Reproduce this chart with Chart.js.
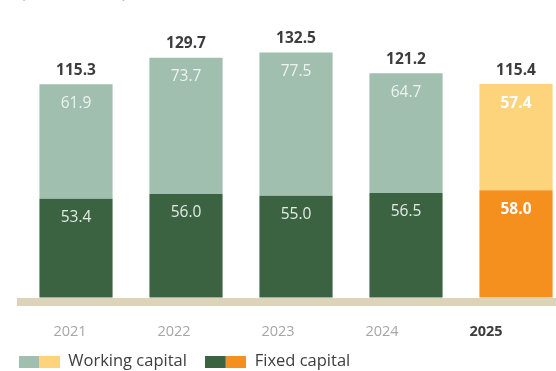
<!DOCTYPE html>
<html>
<head>
<meta charset="utf-8">
<script src="https://cdn.jsdelivr.net/npm/chart.js@4.4.1/dist/chart.umd.min.js"></script>
<style>
  html, body { margin: 0; padding: 0; background: #ffffff; overflow: hidden; width: 556px; height: 371px; }
  #wrap { position: relative; width: 556px; height: 371px; overflow: hidden; }
  #unit { position: absolute; left: 21px; top: -17px; font-family: "Open Sans", sans-serif; font-size: 15px; line-height: 18px; color: #b0b0b0; white-space: nowrap; }
  canvas { position: absolute; left: 0; top: 0; }
</style>
</head>
<body>
<div id="wrap">
  <div id="unit">(in EUR million)</div>
  <canvas id="c" width="580" height="371"></canvas>
</div>
<script>
const years = ['2021', '2022', '2023', '2024', '2025'];
const fixedCapital = [53.4, 56.0, 55.0, 56.5, 58.0];
const workingCapital = [61.9, 73.7, 77.5, 64.7, 57.4];
const totals = [115.3, 129.7, 132.5, 121.2, 115.4];

const workingColors = ['#a0bfae', '#a0bfae', '#a0bfae', '#a0bfae', '#fdd47c'];
const fixedColors = ['#3b6342', '#3b6342', '#3b6342', '#3b6342', '#f5901f'];

function legendSwatch(c1, c2) {
  const cv = document.createElement('canvas');
  cv.width = 41; cv.height = 12;
  const g = cv.getContext('2d');
  g.fillStyle = c1; g.fillRect(0, 0, 20.5, 12);
  g.fillStyle = c2; g.fillRect(20.5, 0, 20.5, 12);
  return cv;
}
const swWorking = legendSwatch('#a0bfae', '#fdd47c');
const swFixed = legendSwatch('#3b6342', '#f5901f');

const labelPlugin = {
  id: 'valueLabels',
  afterLayout(chart) {
    // the year labels in the original sit on a slightly narrower band than the bars
    const s = chart.scales.xl;
    s.left = 18; s.right = 538; s.width = 520;
    s.configure();
  },
  afterDatasetsDraw(chart) {
    const ctx = chart.ctx;
    ctx.save();
    ctx.textAlign = 'center';
    ctx.textBaseline = 'middle';
    const fixedMeta = chart.getDatasetMeta(0);
    const workMeta = chart.getDatasetMeta(1);
    fixedMeta.data.forEach((el, i) => {
      const last = i === years.length - 1;
      ctx.font = (last ? 'bold ' : '') + '15.5px "Open Sans"';
      ctx.fillStyle = last ? '#ffffff' : '#e3ebe4';
      ctx.fillText(fixedCapital[i].toFixed(1), el.x, el.y + 19);
    });
    workMeta.data.forEach((el, i) => {
      const last = i === years.length - 1;
      ctx.font = (last ? 'bold ' : '') + '15.5px "Open Sans"';
      ctx.fillStyle = last ? '#ffffff' : '#eef3ef';
      ctx.fillText(workingCapital[i].toFixed(1), el.x, el.y + 19);
      ctx.font = 'bold 15.5px "Open Sans"';
      ctx.fillStyle = '#3d3d3d';
      ctx.fillText(totals[i].toFixed(1), el.x, el.y - 14);
    });
    ctx.restore();
  }
};

new Chart(document.getElementById('c'), {
  type: 'bar',
  data: {
    labels: years,
    datasets: [
      { label: 'Fixed capital', data: fixedCapital, backgroundColor: fixedColors, borderWidth: 0 },
      { label: 'Working capital', data: workingCapital, backgroundColor: workingColors, borderWidth: 0 }
    ]
  },
  options: {
    responsive: false,
    animation: false,
    layout: { padding: { left: 9, right: 9, top: 38.6, bottom: -9 } },
    barPercentage: 0.665,
    categoryPercentage: 1,
    scales: {
      x: {
        stacked: true,
        offset: true,
        weight: 0,
        grid: { display: false, drawTicks: false },
        border: { display: true, color: '#dcd3b8', width: 8, z: 1 },
        ticks: { display: false },
        afterFit(s) { s.height = 0; }
      },
      xl: {
        type: 'category',
        position: 'bottom',
        labels: years,
        offset: true,
        weight: 1,
        grid: { display: false, drawTicks: false },
        border: { display: false },
        afterFit(s) { s.height = 42; },
        ticks: {
          padding: 22,
          color: (c) => c.index === 4 ? '#3d3d3d' : '#a6a6a6',
          font: (c) => ({ family: 'Open Sans', size: 14.5, weight: c.index === 4 ? 'bold' : 'normal' })
        }
      },
      y: {
        stacked: true,
        display: true,
        min: -2.16,
        max: 140,
        grid: { display: false, drawTicks: false },
        border: { display: false },
        ticks: { display: false },
        afterFit(s) { s.width = 12; }
      }
    },
    plugins: {
      legend: {
        position: 'bottom',
        align: 'start',
        labels: {
          usePointStyle: true,
          pointStyleWidth: 41,
          boxHeight: 12,
          padding: 10,
          color: '#3d3d3d',
          font: { family: 'Open Sans', size: 16.5 },
          generateLabels(chart) {
            return [
              { text: 'Working capital  ', pointStyle: swWorking, fillStyle: '#a0bfae', strokeStyle: 'transparent', lineWidth: 0, fontColor: '#3d3d3d', datasetIndex: 1 },
              { text: 'Fixed capital', pointStyle: swFixed, fillStyle: '#3b6342', strokeStyle: 'transparent', lineWidth: 0, fontColor: '#3d3d3d', datasetIndex: 0 }
            ];
          }
        }
      },
      tooltip: { enabled: false }
    }
  },
  plugins: [labelPlugin]
});
</script>
</body>
</html>
